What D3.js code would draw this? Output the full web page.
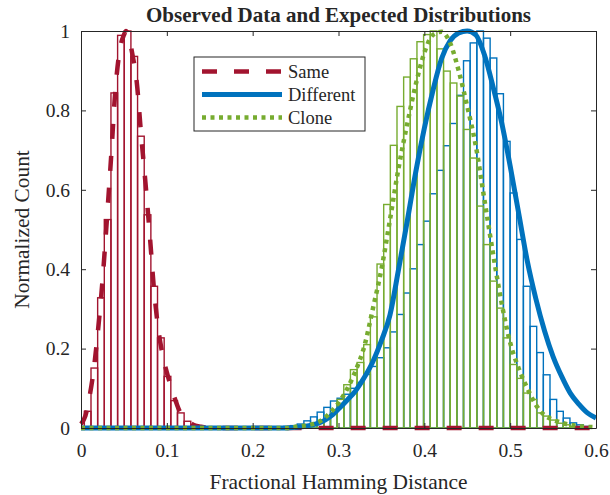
<!DOCTYPE html>
<html>
<head>
<meta charset="utf-8">
<script src="https://d3js.org/d3.v7.min.js"></script>
<style>
  body { margin: 0; background: #fff; }
  svg text { font-family: "Liberation Serif", "Times New Roman", serif; fill: #262626; }
</style>
</head>
<body>
<div id="viz"></div>
<script>
// histogram bins (fractional hamming distance), shared by all three series
const binStart = 0.0039, binWidth = 0.00775;

const sameFirstBin = 0;
const sameCounts = [0.042, 0.151, 0.328, 0.525, 0.844, 0.989, 1.0, 0.936, 0.735, 0.537,
                    0.357, 0.227, 0.130, 0.069, 0.038, 0.017, 0.005, 0.003, 0.002, 0.001];

const diffFirstBin = 28;
const diffCounts = [0.002, 0.003, 0.004, 0.006, 0.01, 0.018, 0.028, 0.04, 0.052, 0.068,
                    0.075, 0.085, 0.10, 0.115, 0.135, 0.155, 0.177, 0.202, 0.242, 0.286,
                    0.340, 0.401, 0.462, 0.521, 0.590, 0.649, 0.711, 0.767, 0.838, 0.925,
                    0.97, 1.0, 0.982, 0.932, 0.842, 0.722, 0.592, 0.475, 0.357, 0.256,
                    0.19, 0.134, 0.072, 0.042, 0.025, 0.013, 0.008, 0.004];

const cloneFirstBin = 33;
const cloneCounts = [0.003, 0.006, 0.012, 0.022, 0.038, 0.072, 0.109, 0.147, 0.165, 0.21,
                     0.28, 0.413, 0.563, 0.712, 0.81, 0.884, 0.93, 0.973, 0.991, 1.0,
                     0.955, 0.899, 0.869, 0.836, 0.752, 0.68, 0.559, 0.462, 0.37, 0.302,
                     0.227, 0.16, 0.125, 0.088, 0.072, 0.038, 0.03, 0.02, 0.012, 0.008,
                     0.004, 0.002];

// expected distributions
const sameCurveX = [0, 0.005, 0.01, 0.015, 0.02, 0.025, 0.03, 0.035, 0.04, 0.045, 0.05, 0.0525,
                    0.055, 0.06, 0.065, 0.07, 0.075, 0.08, 0.085, 0.09, 0.095, 0.1, 0.105,
                    0.11, 0.115, 0.12, 0.125, 0.13, 0.14, 0.15, 0.6];
const sameCurveY = [0.01, 0.03, 0.08, 0.15, 0.25, 0.37, 0.52, 0.68, 0.85, 0.95, 0.99, 1.0,
                    0.99, 0.94, 0.87, 0.74, 0.62, 0.49, 0.35, 0.25, 0.185, 0.14, 0.103,
                    0.07, 0.042, 0.027, 0.017, 0.009, 0.003, 0, 0];

const distX = [0, 0.24, 0.25, 0.26, 0.27, 0.28, 0.29, 0.30, 0.31, 0.32, 0.33, 0.34, 0.35,
               0.36, 0.37, 0.38, 0.39, 0.40, 0.41, 0.42, 0.43, 0.44, 0.45, 0.46, 0.47, 0.48,
               0.49, 0.50, 0.51, 0.52, 0.53, 0.54, 0.55, 0.56, 0.57, 0.58, 0.59, 0.60];
const diffCurveY = [0, 0, 0.002, 0.004, 0.008, 0.015, 0.028, 0.048, 0.07, 0.094, 0.127, 0.167,
                    0.22, 0.285, 0.40, 0.52, 0.645, 0.755, 0.85, 0.93, 0.975, 0.995, 1.0,
                    0.99, 0.94, 0.86, 0.77, 0.66, 0.54, 0.42, 0.325, 0.245, 0.18, 0.13,
                    0.088, 0.06, 0.038, 0.025];
const cloneCurveY = [0, 0, 0.003, 0.006, 0.01, 0.019, 0.038, 0.063, 0.098, 0.145, 0.205, 0.30,
                     0.40, 0.525, 0.655, 0.765, 0.865, 0.945, 0.99, 0.998, 0.97, 0.90, 0.81,
                     0.71, 0.575, 0.44, 0.315, 0.215, 0.15, 0.10, 0.058, 0.032, 0.021, 0.013,
                     0.008, 0.005, 0.003, 0.002];

const seriesNames = ['Same', 'Different', 'Clone'];
const xTicks = [0, 0.1, 0.2, 0.3, 0.4, 0.5, 0.6];
const yTicks = [0, 0.2, 0.4, 0.6, 0.8, 1];

const red = '#A2142F', blue = '#0072BD', green = '#77AC30';

let margin = { top: 31, right: 14, bottom: 67, left: 81 },
    width = 610, height = 495;
let w = width - margin.left - margin.right,
    h = height - margin.top - margin.bottom;

let svg = d3.select('#viz').append('svg').attr('width', width).attr('height', height);
let g = svg.append('g').attr('transform', `translate(${margin.left}, ${margin.top})`);

let x = d3.scaleLinear().domain([0, 0.6]).range([0, w]);
let y = d3.scaleLinear().domain([0, 1]).range([h, 0]);

// bars
function drawBars(first, counts, color) {
    g.append('g').selectAll('rect')
        .data(counts.map((v, i) => ({ x0: binStart + (first + i) * binWidth, v: v })))
        .join('rect')
        .attr('x', d => x(d.x0))
        .attr('width', x(binWidth) - x(0))
        .attr('y', d => y(d.v))
        .attr('height', d => y(0) - y(d.v))
        .attr('fill', 'none')
        .attr('stroke', color)
        .attr('stroke-width', 1.4);
}
drawBars(sameFirstBin, sameCounts, red);
drawBars(diffFirstBin, diffCounts, blue);
drawBars(cloneFirstBin, cloneCounts, green);

// curves
let line = d3.line().x(d => x(d[0])).y(d => y(d[1])).curve(d3.curveMonotoneX);
const curveStyles = [
    { color: red, width: 4.5, dash: '15,17' },
    { color: blue, width: 5, dash: null },
    { color: green, width: 4.5, dash: '4,4.5' }
];
const curves = [
    d3.zip(sameCurveX, sameCurveY),
    d3.zip(distX, diffCurveY),
    d3.zip(distX, cloneCurveY)
];
curves.forEach((pts, i) => {
    g.append('path')
        .datum(pts)
        .attr('d', line)
        .attr('fill', 'none')
        .attr('stroke', curveStyles[i].color)
        .attr('stroke-width', curveStyles[i].width)
        .attr('stroke-dasharray', curveStyles[i].dash);
});

// axes (inward ticks, box)
let fmt = d => d3.format('~g')(d);
let xAxis = g.append('g').attr('transform', `translate(0, ${h})`)
    .call(d3.axisBottom(x).tickValues(xTicks).tickFormat(fmt).tickSizeInner(-5).tickSizeOuter(0).tickPadding(15));
let yAxis = g.append('g')
    .call(d3.axisLeft(y).tickValues(yTicks).tickFormat(fmt).tickSizeInner(-5).tickSizeOuter(0).tickPadding(11));
g.append('g')
    .call(d3.axisTop(x).tickValues(xTicks).tickFormat('').tickSizeInner(-5).tickSizeOuter(0));
g.append('g').attr('transform', `translate(${w}, 0)`)
    .call(d3.axisRight(y).tickValues(yTicks).tickFormat('').tickSizeInner(-5).tickSizeOuter(0));

g.selectAll('.domain, .tick line').attr('stroke', '#262626').attr('stroke-width', 1);
g.selectAll('.tick text').style('font-size', '19.5px').attr('fill', '#262626');

// titles
svg.append('text')
    .attr('x', margin.left + w / 2).attr('y', 22)
    .attr('text-anchor', 'middle')
    .style('font-size', '21px').style('font-weight', 'bold')
    .attr('fill', '#000')
    .text('Observed Data and Expected Distributions');

svg.append('text')
    .attr('x', margin.left + w / 2).attr('y', 489)
    .attr('text-anchor', 'middle')
    .style('font-size', '21.4px')
    .text('Fractional Hamming Distance');

svg.append('text')
    .attr('transform', `translate(29, ${margin.top + h / 2}) rotate(-90)`)
    .attr('text-anchor', 'middle')
    .style('font-size', '21.4px')
    .text('Normalized Count');

// legend
let legend = svg.append('g').attr('transform', 'translate(194, 57)');
legend.append('rect')
    .attr('width', 171).attr('height', 74)
    .attr('fill', '#fff').attr('stroke', '#262626').attr('stroke-width', 1);
seriesNames.forEach((name, i) => {
    let ly = 14.5 + i * 23;
    legend.append('line')
        .attr('x1', 8).attr('x2', 88).attr('y1', ly).attr('y2', ly)
        .attr('stroke', curveStyles[i].color)
        .attr('stroke-width', curveStyles[i].width)
        .attr('stroke-dasharray', curveStyles[i].dash);
    legend.append('text')
        .attr('x', 94).attr('y', ly).attr('dy', '0.33em')
        .style('font-size', '18.5px')
        .text(name);
});
</script>
</body>
</html>
